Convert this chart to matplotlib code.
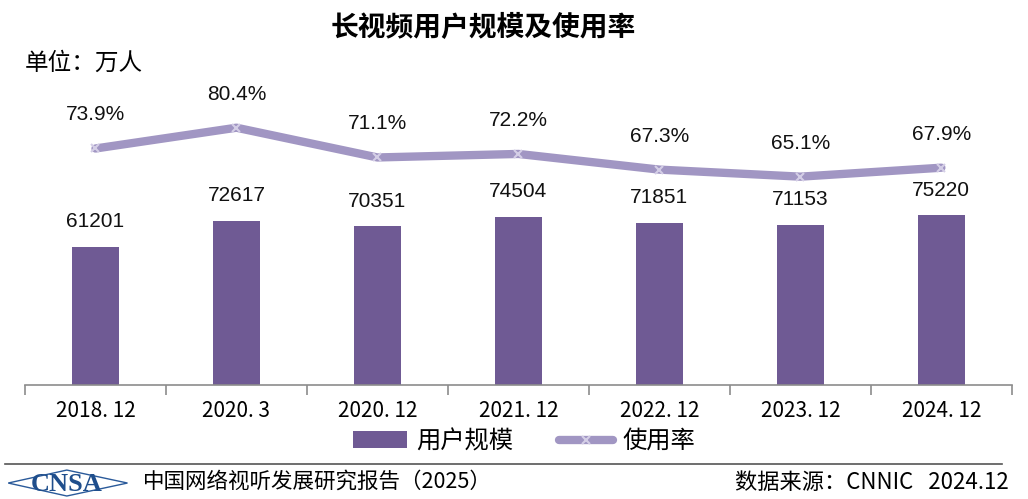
import numpy as np
import matplotlib
matplotlib.use('Agg')
import matplotlib.pyplot as plt
from matplotlib.patches import Polygon

plt.rcParams['font.family'] = ['Noto Sans CJK SC', 'DejaVu Sans']

# 数据
periods = ['2018. 12', '2020. 3', '2020. 12', '2021. 12', '2022. 12', '2023. 12', '2024. 12']
users = [61201, 72617, 70351, 74504, 71851, 71153, 75220]
rate = [73.9, 80.4, 71.1, 72.2, 67.3, 65.1, 67.9]

bar_color = '#6F5A94'
line_color = '#A196C3'

fig = plt.figure(figsize=(10.28, 4.99), dpi=100)
ax = fig.add_axes([0.0243, 0.2285, 0.960, 0.581])
x = np.arange(len(periods))

ax.bar(x, users, width=0.33, color=bar_color, label='用户规模', zorder=2)
ax.set_ylim(0, 128600)
ax.set_xlim(-0.5, len(periods) - 0.5)
for xi, v in zip(x, users):
    ax.text(xi, v + 7000, str(v), ha='center', va='bottom', fontsize=15,
            family='Liberation Sans', color='#111111')

ax2 = ax.twinx()
ax2.plot(x, rate, color=line_color, lw=6, marker='x', ms=6, mew=1.5,
         mec='#D4CEE6', label='使用率', zorder=3, solid_capstyle='round')
ax2.set_ylim(0, 90.6)
for xi, r in zip(x, rate):
    ax2.text(xi, r + 7.5, f'{r}%', ha='center', va='bottom', fontsize=15,
             family='Liberation Sans', color='#111111')

for a in (ax, ax2):
    for s in ('top', 'right', 'left'):
        a.spines[s].set_visible(False)
    a.set_yticks([])
ax2.spines['bottom'].set_visible(False)
ax.spines['bottom'].set_color('#8C8C8C')
ax.spines['bottom'].set_linewidth(1.2)

ax.set_xticks(x)
ax.set_xticklabels(periods, fontsize=15)
ax.tick_params(axis='x', length=0, pad=11)
ax.set_xticks(np.arange(-0.5, len(periods)), minor=True)
ax.tick_params(axis='x', which='minor', length=7, color='#8C8C8C', width=1.2)

# 图例
h1, l1 = ax.get_legend_handles_labels()
h2, l2 = ax2.get_legend_handles_labels()
fig.legend(h1 + h2, l1 + l2, loc='center', bbox_to_anchor=(0.51, 0.116), ncol=2,
           frameon=False, fontsize=17.5, handlelength=2.2, columnspacing=1.9,
           handletextpad=0.4)

# 标题
fig.text(0.47, 0.944, '长视频用户规模及使用率', ha='center', va='center',
         fontsize=20, fontweight='bold')
fig.text(0.024, 0.873, '单位：万人', ha='left', va='center', fontsize=17)

# 页脚
fig.add_artist(plt.Line2D([0.005, 0.975], [0.070, 0.070], transform=fig.transFigure,
                          color='#555555', lw=1.2))
eye = Polygon([[0.008, 0.032], [0.065, 0.058], [0.124, 0.032], [0.065, 0.006]],
              closed=True, transform=fig.transFigure, fill=False, ec='#2A5A9A', lw=1.0)
fig.add_artist(eye)
fig.text(0.065, 0.030, 'CNSA', ha='center', va='center', fontsize=19, fontweight='bold',
         color='#1F4E8C', family='Liberation Serif')
fig.text(0.139, 0.034, '中国网络视听发展研究报告（2025）', ha='left', va='center', fontsize=15.5)
fig.text(0.981, 0.034, '数据来源：CNNIC   2024.12', ha='right', va='center', fontsize=16)

fig.savefig('out.png', dpi=100)
